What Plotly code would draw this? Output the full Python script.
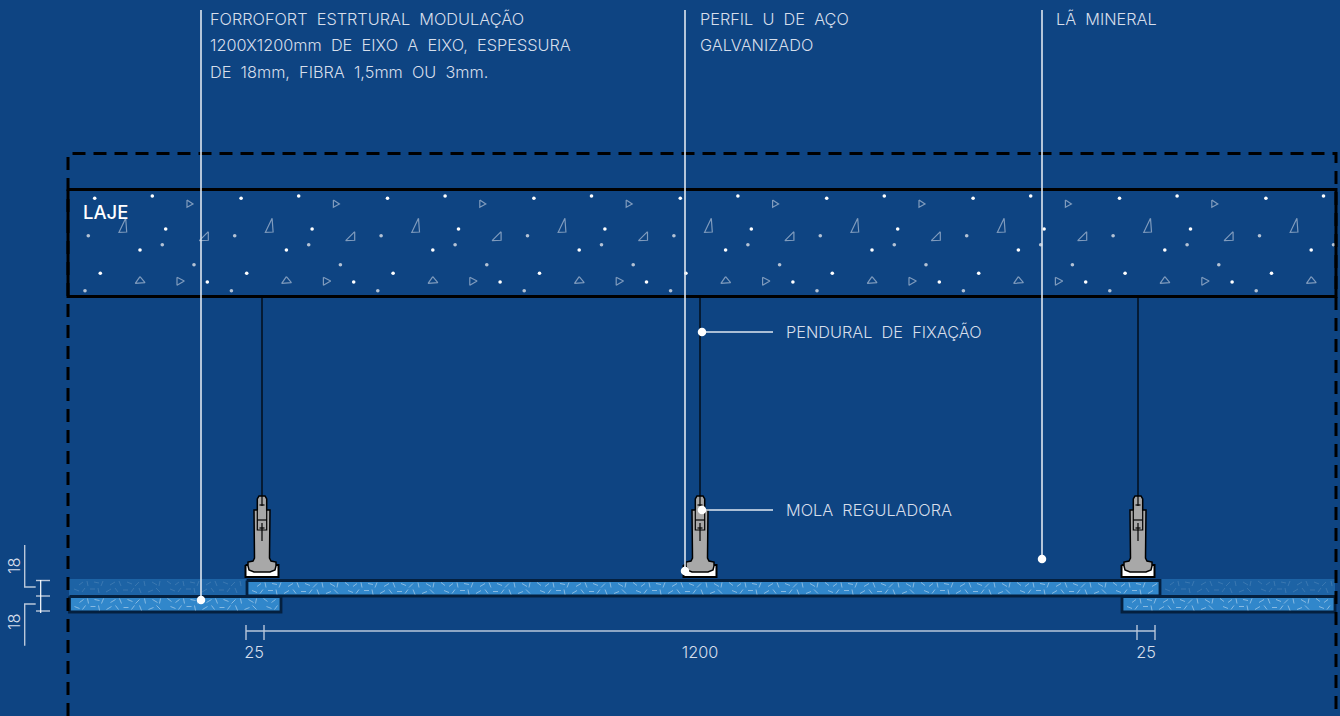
import plotly.graph_objects as go

W, H = 1340, 716
BG = "#0e4482"
FONT = "Inter"
TEXT_COL = "#d6deeb"
SP = "\u00a0 "

# ---- labels ----
note_x = [210, 210, 210, 700, 700, 1056, 786, 786]
note_y = [21, 47, 74, 21, 47, 21, 334, 512]
note_text = ["FORROFORT" + SP + "ESTRTURAL" + SP + "MODULAÇÃO",
             "1200X1200mm" + SP + "DE" + SP + "EIXO" + SP + "A" + SP + "EIXO," + SP + "ESPESSURA",
             "DE" + SP + "18mm," + SP + "FIBRA" + SP + "1,5mm" + SP + "OU" + SP + "3mm.",
             "PERFIL" + SP + "U" + SP + "DE" + SP + "AÇO", "GALVANIZADO", "LÃ" + SP + "MINERAL",
             "PENDURAL" + SP + "DE" + SP + "FIXAÇÃO", "MOLA" + SP + "REGULADORA"]
dim_x = [254, 700, 1146]
dim_y = [654, 654, 654]
dim_text = ["25", "1200", "25"]

# ---- leaders: (x0, y0, x1, y1) ----
leader_seg = [(201, 10, 201, 600), (685, 10, 685, 571), (1042, 10, 1042, 559),
              (702, 332, 773, 332), (702, 510, 773, 510)]
leader_dot_x = [201, 685, 1042, 702, 702]
leader_dot_y = [600, 571, 559, 332, 510]

# ---- concrete tile ----
tile_period = 146.4
tile_repeats = list(range(9))
bright_x = [94.7, 152.3, 165.7, 140.0, 100.3, 207.3]
bright_y = [198.3, 196.0, 229.0, 250.0, 273.3, 282.0]
dim_dot_x = [88.3, 162.3, 194.0, 85.0]
dim_dot_y = [235.7, 244.7, 264.7, 290.7]
triangles = [
    [(125.7, 218.3), (119.0, 232.3), (126.7, 232.0)],
    [(187.0, 200.0), (193.0, 204.0), (187.0, 207.3)],
    [(208.3, 231.7), (199.3, 240.7), (208.3, 240.3)],
    [(140.0, 276.7), (135.3, 283.3), (145.0, 282.7)],
    [(177.0, 277.3), (184.3, 281.0), (177.0, 285.3)],
]

# ---- fibre tile (relative to panel top-left) ----
fib_period = 96
fib_x = [2, 10, 18, 25, 34, 41, 50, 58, 66, 75, 83, 91, 5, 13, 21, 29, 37, 46, 54, 62, 70, 79, 87]
fib_y = [2, 6, 2, 3, 2, 6, 2, 3, 7, 2, 3, 2, 10, 13, 10, 9, 13, 9, 11, 13, 9, 13, 9]
fib_dx = [4, 4, 1, 5, -2, 5, 2, 5, 4, 1, 5, -1, 5, 3, 5, 1, 5, 3, 5, 3, 2, 5, 4]
fib_dy = [3, -3, 5, 1, 5, -3, 5, 2, -4, 5, 3, 5, 2, -4, 0, 5, -3, 4, 0, -4, 5, -2, 4]

# ---- panels: x0, x1, y0, y1 ----
solid_panels = [(247, 1160, 580.5, 596), (69.5, 281, 596.5, 612), (1122, 1335, 596.5, 612)]
faded_panels = [(69, 246, 579, 596), (1160, 1335, 579, 596)]

# ---- hangers ----
hanger_cx = [262, 700, 1138]
hanger_body = [(-4.7, 510), (-4.7, 499), (-3, 496), (3, 496), (4.7, 499), (4.7, 510), (8, 510),
               (8, 531), (7.5, 532), (7.5, 558), (9, 561), (14, 562), (14, 566), (13, 570), (8, 572),
               (-8, 572), (-13, 570), (-14, 566), (-14, 562), (-9, 561), (-7.5, 558), (-7.5, 532),
               (-8, 531), (-8, 510), (-4.7, 510)]
hanger_base = [(-16.5, 565), (16.5, 565), (16.5, 577), (-16.5, 577), (-16.5, 565)]
hanger_lines = [[(0, 297), (0, 506)], [(0, 523), (0, 541)],
                [(-4.7, 510), (-4.7, 530), (4.7, 530), (4.7, 510)],
                [(-4.7, 520), (4.7, 520)],
                [(-2.5, 505), (2.5, 505)], [(-2.5, 528), (2.5, 528)]]

# ---- dimensions ----
dim_lines = [[(246, 631), (1155, 631)],
             [(246, 625), (246, 640)], [(264, 625), (264, 640)],
             [(1137, 625), (1137, 640)], [(1155, 625), (1155, 640)],
             [(24.7, 545), (24.7, 587), (35.7, 587)],
             [(24.7, 645.7), (24.7, 604), (35.7, 604)],
             [(36, 596), (50, 596)], [(36, 611), (50, 611)], [(36, 580.5), (50, 580.5)]]
dim_white = [[(40.7, 580), (40.7, 613)]]


def polyline(paths):
    xs, ys = [], []
    for p in paths:
        xs += [a for a, _ in p] + [None]
        ys += [b for _, b in p] + [None]
    return xs, ys


def line(paths, color, width, dash=None):
    xs, ys = polyline(paths)
    return go.Scatter(x=xs, y=ys, mode="lines", hoverinfo="skip",
                      line=dict(color=color, width=width, dash=dash))


def filled(paths, fill, color, width):
    xs, ys = polyline(paths)
    return go.Scatter(x=xs, y=ys, mode="lines", fill="toself", fillcolor=fill, hoverinfo="skip",
                      line=dict(color=color, width=width))


def rect(p):
    x0, x1, y0, y1 = p
    return [(x0, y0), (x1, y0), (x1, y1), (x0, y1), (x0, y0)]


def fibres(panels):
    out = []
    for x0, x1, y0, y1 in panels:
        n = int((x1 - x0) / fib_period) + 1
        for k in range(n):
            for a, b, c, d in zip(fib_x, fib_y, fib_dx, fib_dy):
                xa, xb = x0 + k * fib_period + a, x0 + k * fib_period + a + c
                if x0 + 2 < min(xa, xb) and max(xa, xb) < x1 - 2:
                    out.append([(xa, y0 + b), (xb, y0 + b + d)])
    return out


fig = go.Figure()

# faded and solid panels
fig.add_trace(filled([rect(p) for p in faded_panels], "#1d63a5", "rgba(0,0,0,0)", 0))
fig.add_trace(line(fibres(faded_panels), "rgba(255,255,255,0.13)", 1))
fig.add_trace(filled([rect(p) for p in solid_panels], "#3187cb", "#04203f", 2.8))
fig.add_trace(line(fibres(solid_panels), "rgba(255,255,255,0.42)", 1))

# concrete slab
fig.add_trace(line([rect((68, 1336, 189.5, 296.5))], "#000000", 3))
bx, by, dx, dy, tri = [], [], [], [], []
for k in tile_repeats:
    off = k * tile_period
    bx += [x + off for x in bright_x if x + off < 1334]
    by += [y for x, y in zip(bright_x, bright_y) if x + off < 1334]
    dx += [x + off for x in dim_dot_x if x + off < 1334]
    dy += [y for x, y in zip(dim_dot_x, dim_dot_y) if x + off < 1334]
    for t in triangles:
        if max(a for a, _ in t) + off < 1334:
            tri.append([(a + off, b) for a, b in t + [t[0]]])
fig.add_trace(line(tri, "#7f9bbd", 1.2))
fig.add_trace(go.Scatter(x=bx, y=by, mode="markers", hoverinfo="skip",
                         marker=dict(color="#ffffff", size=3.6, line=dict(width=0))))
fig.add_trace(go.Scatter(x=dx, y=dy, mode="markers", hoverinfo="skip",
                         marker=dict(color="#b4c2d4", size=3.6, line=dict(width=0))))

# hangers
for cx in hanger_cx:
    shift = lambda pts: [(a + cx, b) for a, b in pts]
    fig.add_trace(filled([shift(hanger_base)], "#ffffff", "#000000", 2))
    fig.add_trace(filled([shift(hanger_body)], "#a8a8a8", "#000000", 1.5))
    fig.add_trace(line([shift(p) for p in hanger_lines], "#000000", 1.2))

# dashed frame
fig.add_trace(line([[(68, 716), (68, 153.5), (1336, 153.5), (1336, 716)]], "#000000", 3,
                   dash="13px,8px"))

# dimensions
fig.add_trace(line(dim_lines, "#b9c7da", 1.4))
fig.add_trace(line(dim_white, "#ffffff", 1.2))

# leaders
fig.add_trace(line([[(a, b), (c, d)] for a, b, c, d in leader_seg], "#dfe7f1", 1.6))
fig.add_trace(go.Scatter(x=leader_dot_x, y=leader_dot_y, mode="markers", hoverinfo="skip",
                         marker=dict(color="#ffffff", size=8.5, line=dict(width=0))))

# text
fig.add_trace(go.Scatter(x=note_x, y=note_y, mode="text", text=note_text, textposition="middle right",
                         hoverinfo="skip", textfont=dict(family=FONT, size=16.3, color=TEXT_COL, weight=300)))
fig.add_trace(go.Scatter(x=dim_x, y=dim_y, mode="text", text=dim_text, textposition="middle center",
                         hoverinfo="skip", textfont=dict(family=FONT, size=16.3, color=TEXT_COL, weight=300)))
fig.add_trace(go.Scatter(x=[83], y=[214], mode="text", text=["LAJE"], textposition="middle right",
                         hoverinfo="skip", textfont=dict(family=FONT, size=18.5, color="#ffffff", weight=500)))

for ytxt in (566, 622):
    fig.add_annotation(x=14, y=ytxt, text="18", showarrow=False, textangle=-90,
                       font=dict(family=FONT, size=16.3, color=TEXT_COL, weight=300))

fig.update_layout(width=W, height=H, margin=dict(l=0, r=0, t=0, b=0), showlegend=False,
                  paper_bgcolor=BG, plot_bgcolor=BG,
                  xaxis=dict(range=[0, W], visible=False, fixedrange=True),
                  yaxis=dict(range=[H, 0], visible=False, fixedrange=True))
fig.write_html("out.html", config=dict(displayModeBar=False),
               post_script="document.body.style.margin='0';document.documentElement.style.overflow='hidden';")
